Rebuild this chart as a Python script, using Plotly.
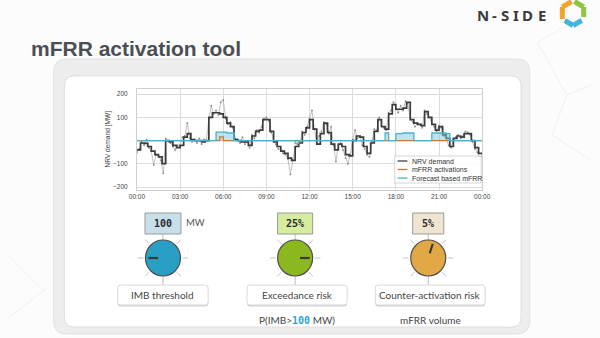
import plotly.graph_objects as go
import math

W, H = 600, 338

# ---------------- data ----------------
tick_hours = [0, 3, 6, 9, 12, 15, 18, 21, 24]
time_labels = ["00:00", "03:00", "06:00", "09:00", "12:00", "15:00", "18:00", "21:00", "00:00"]
y_ticks = [-200, -100, 0, 100, 200]
y_ticktext = ["\u2212200", "\u2212100", "", "100", "200"]

# 15-min NRV demand (MW)
nrv_demand = [
    -40, -10, -12, -25,   -45, -60, -70, -99,   0, -5, -20, -30,   -20, 15, 30, 5,
    0, 0, -5, 0,          100, 120, 120, 115,   100, 75, 60, 5,    0, -5, -5, -20,
    20, 40, 45, 90,       90, 40, -5, -25,      -45, -55, -75, -85, -25, -10, 35, 55,
    90, 50, -15, 30,      75, 35, -15, -40,     -15, -25, -60, -65, 0, 20, 15, -25,
    -55, -10, 40, 90,     60, 50, 115, 155,     135, 135, 140, 165, 90, 75, 70, 65,
    125, 100, 70, 45,     60, 25, 10, -25,      10, 20, 15, 30,    30, 0, -30, -55,
]
# 10-min raw NRV samples (MW)
nrv_raw = [
    -50, -35, -5, -20, 5, -30,      -45, -105, -60, -65, -85, -140,
    10, 0, -10, -25, -40, -20,      -25, 15, 20, 75, 10, -5,
    5, -10, 10, -15, 5, 0,          95, 150, 115, 130, 110, 165,
    175, 95, 70, 80, 55, 10,        5, -10, 15, -15, -5, -30,
    25, 10, 45, 35, 60, 95,         100, 85, 35, 0, -15, -35,
    -40, -55, -60, -80, -145, -85,  -30, -15, -5, 40, 25, 60,
    95, 130, 50, -10, 20, 40,       80, 70, 30, 60, -20, -90,
    -20, -10, -40, -75, -100, -60,  5, 45, 10, 20, -20, -35,
    -60, -70, -5, 50, 45, 100,      65, 55, 45, 120, 130, 165,
    140, 120, 150, 130, 170, 160,   95, 80, 60, 75, 70, 55,
    130, 115, 100, 75, 60, 40,      65, 55, 20, 15, -20, -30,
    5, 15, 25, 10, 20, 40,          35, 25, -5, -35, -50, -70,
    -65,
]
mfrr_activations = [
    0, 0, 0, 0,  0, 0, 0, 0,  0, 0, 0, 0,  0, 0, 0, 0,
    0, 0, 0, 0,  0, 0, 0, 16, 0, 0, 0, 0,  0, 0, 0, 0,
    0, 0, 0, 0,  0, 0, 0, 0,  0, 0, 0, 0,  0, 0, 0, 0,
    0, 0, 0, 0,  0, 0, 0, 0,  0, 0, 0, 0,  0, 0, 0, 0,
    0, 0, 0, 0,  0, 0, 0, 0,  0, 0, 0, 0,  0, 0, 0, 0,
    0, 0, 0, 0,  0, 0, 0, 0,  0, 0, 0, 0,  0, 0, 0, 0,
]
forecast_mfrr = [
    0, 0, 0, 0,  0, 0, 0, 0,  0, 0, 0, 0,  0, 0, 0, 0,
    0, 0, 0, 0,  0, 0, 37, 37, 37, 33, 33, 0, 0, 0, 0, 0,
    0, 0, 0, 0,  0, 0, 0, 0,  0, 0, 0, 0,  -13, 0, 0, 0,
    0, 0, 0, 0,  0, 0, 0, 0,  0, 0, 0, 0,  0, 0, 0, 0,
    0, 0, 0, 0,  0, 33, 0, 0, 30, 30, 33, 33, 33, 0, 0, 0,
    0, 0, 33, 33, 33, 33, 30, 0, 0, 0, 0, 0, 0, 0, 0, 0,
]

knob_names = ["IMB threshold", "Exceedance risk", "Counter-activation risk"]
knob_values = ["100", "25%", "5%"]
knob_units = ["MW", "", ""]
knob_subtitles = ["", "P(IMB&gt;<span style='color:#2aa6cf;font-family:DejaVu Sans Mono'><b>100</b></span> MW)",
                  "mFRR volume"]

# ---------------- style / geometry ----------------
knob_fill = ["#2a9fc6", "#8bb81f", "#e2a845"]
box_fill = ["#c6dfe8", "#d6ec9f", "#efe4d0"]
knob_cx = [159.5, 295.5, 432.5]
knob_cy = 258
knob_r = 18
box_w = [37, 36, 32]
label_box = [(113, 206), (246, 349), (378, 491)]
knob_angle = [180, 0, 72]

t15 = [i / 4 for i in range(len(nrv_demand) + 1)]
t10 = [i / 6 for i in range(len(nrv_raw))]


def px(x):
    return x / W


def py(y):
    return 1 - y / H


shapes = []
annotations = []


def rrect(x0, y0, x1, y1, r, fill, line="rgba(0,0,0,0)", lw=0, layer="below"):
    pts = [
        ("M", [(x0 + r, y0)]), ("L", [(x1 - r, y0)]), ("Q", [(x1, y0), (x1, y0 + r)]),
        ("L", [(x1, y1 - r)]), ("Q", [(x1, y1), (x1 - r, y1)]), ("L", [(x0 + r, y1)]),
        ("Q", [(x0, y1), (x0, y1 - r)]), ("L", [(x0, y0 + r)]), ("Q", [(x0, y0), (x0 + r, y0)]),
    ]
    path = ""
    for cmd, ps in pts:
        path += cmd + " ".join(f"{px(a):.5f},{py(b):.5f}" for a, b in ps) + " "
    path += "Z"
    shapes.append(dict(type="path", xref="paper", yref="paper", path=path, fillcolor=fill,
                       line=dict(color=line, width=lw), layer=layer))


def rect(x0, y0, x1, y1, fill, line="rgba(0,0,0,0)", lw=0, layer="below"):
    shapes.append(dict(type="rect", xref="paper", yref="paper", x0=px(x0), x1=px(x1), y0=py(y1), y1=py(y0),
                       fillcolor=fill, line=dict(color=line, width=lw), layer=layer))


def seg(x0, y0, x1, y1, color, lw, layer="below"):
    shapes.append(dict(type="line", xref="paper", yref="paper", x0=px(x0), x1=px(x1), y0=py(y0), y1=py(y1),
                       line=dict(color=color, width=lw), layer=layer))


def circ(cx, cy, r, fill, line, lw):
    shapes.append(dict(type="circle", xref="paper", yref="paper", x0=px(cx - r), x1=px(cx + r),
                       y0=py(cy + r), y1=py(cy - r), fillcolor=fill, line=dict(color=line, width=lw),
                       layer="below"))


def text(x, y, s, size, color, family="Lato", xanchor="center", angle=0):
    annotations.append(dict(x=px(x), y=py(y), xref="paper", yref="paper", text=s, showarrow=False,
                            xanchor=xanchor, yanchor="middle", textangle=angle,
                            font=dict(size=size, color=color, family=family)))


# faint background network lines
for a, b, c, d in [(545, 42, 600, 12), (545, 42, 575, 95), (575, 95, 600, 85), (560, 135, 600, 160),
                   (0, 255, 38, 292), (0, 318, 40, 288), (575, 95, 560, 135)]:
    seg(a, b, c, d, "#f1f1f1", 1)

# cards
rrect(47, 59, 537, 334, 13, "#ededed", "#e2e2e2", 1)
rrect(58, 76, 528, 327, 10, "#ffffff", "#dedede", 1)

# knobs
for i in range(3):
    cx = knob_cx[i]
    seg(cx, 234, cx, knob_cy - knob_r, "#bdbdbd", 1)
    seg(cx, knob_cy + knob_r, cx, 285, "#bdbdbd", 1)
    for ang in [0, 45, 135, 180, 225, 315]:
        a = math.radians(ang)
        seg(cx + 20 * math.cos(a), knob_cy - 20 * math.sin(a), cx + 26 * math.cos(a), knob_cy - 26 * math.sin(a),
            "#c4c4c4", 1)
    circ(cx, knob_cy, knob_r, knob_fill[i], "#4f4f4f", 1.2)
    a = math.radians(knob_angle[i])
    seg(cx + 5 * math.cos(a), knob_cy - 5 * math.sin(a), cx + 15 * math.cos(a), knob_cy - 15 * math.sin(a),
        "#3a3a3a", 2.2)
    rect(cx - box_w[i] / 2, 213, cx + box_w[i] / 2, 234, box_fill[i], "#9a9a9a", 1)
    text(cx, 223.5, "<b>" + knob_values[i] + "</b>", 10, "#2b2b2b", "DejaVu Sans Mono")
    if knob_units[i]:
        text(cx + box_w[i] / 2 + 15, 222, knob_units[i], 9.5, "#555555")
    x0, x1 = label_box[i]
    rrect(x0, 286, x1, 306.5, 3, "#d2d2d2")
    rrect(x0, 285, x1, 305, 3, "#ffffff", "#dadada", 1)
    text((x0 + x1) / 2, 295, knob_names[i], 10, "#454545")
    if knob_subtitles[i]:
        text((x0 + x1) / 2, 320, knob_subtitles[i], 10, "#454545")

# title and logo
text(22, 48, "<b>mFRR activation tool</b>", 21, "#4a4f55", "Liberation Sans", xanchor="left")
for ch, xx in zip(["N", "-", "S", "I", "D", "E"], [489, 500.5, 511.5, 523, 534.5, 550]):
    text(xx, 14.5, "<b>" + ch + "</b>", 15, "#3b3b3b", "Noto Sans")
hw = 5
seg(570.5, 19, 570.5, 7, "#f3a42b", hw, "above")
seg(570.5, 7, 580, 1.5, "#f3a42b", hw, "above")
seg(583, 1.5, 592.5, 7, "#8dc63f", hw, "above")
seg(592.5, 7, 592.5, 17, "#8dc63f", hw, "above")
seg(573, 20.5, 581.5, 25.5, "#41b6d9", hw, "above")
seg(581.5, 25.5, 590.5, 20.5, "#41b6d9", hw, "above")

# y title
text(102.5, 139, "NRV demand [MW]", 6.6, "#444444", "Liberation Sans", angle=-90)

# legend (drawn above traces)
rect(398, 156, 487, 183, "rgba(255,255,255,0.88)", "#cccccc", 0.8, "above")
leg = [("NRV demand", "#404040"), ("mFRR activations", "#c47a30"), ("Forecast based mFRR", "#4db3c6")]
for k, (lab, col) in enumerate(leg):
    yy = 161 + k * 8.5
    seg(401, yy, 411, yy, col, 1.3, "above")
    text(414, yy, lab, 7, "#333333", "Liberation Sans", xanchor="left")

# ---------------- traces ----------------
fig = go.Figure()
fig.add_trace(go.Scatter(x=t10, y=nrv_raw, mode="lines+markers", line=dict(color="#a8a8a8", width=0.7),
                         marker=dict(size=1.8, color="#8c8c8c"), showlegend=False, hoverinfo="skip"))
fig.add_trace(go.Scatter(x=t15, y=nrv_demand + [nrv_demand[-1]], mode="lines", line_shape="hv",
                         line=dict(color="#3c3c3c", width=1.7), name="NRV demand", showlegend=False))
fig.add_trace(go.Scatter(x=t15, y=forecast_mfrr + [forecast_mfrr[-1]], mode="lines", line_shape="hv",
                         fill="tozeroy", fillcolor="rgba(120,200,225,0.5)",
                         line=dict(color="rgba(0,0,0,0)", width=0), showlegend=False, hoverinfo="skip"))
fig.add_trace(go.Scatter(x=t15, y=mfrr_activations + [mfrr_activations[-1]], mode="lines", line_shape="hv",
                         line=dict(color="#c47a30", width=1.3), name="mFRR activations", showlegend=False))
fig.add_trace(go.Scatter(x=t15, y=forecast_mfrr + [forecast_mfrr[-1]], mode="lines", line_shape="hv",
                         line=dict(color="#4db3c6", width=1.3), name="Forecast based mFRR", showlegend=False))

fig.update_layout(
    width=W, height=H, margin=dict(l=0, r=0, t=0, b=0),
    paper_bgcolor="#fcfcfc", plot_bgcolor="rgba(0,0,0,0)",
    shapes=shapes, annotations=annotations, showlegend=False,
    xaxis=dict(domain=[132.7 / W, 488 / W], range=[0, 24], tickvals=tick_hours, ticktext=time_labels,
               showgrid=True, gridcolor="#dcdcdc", gridwidth=1, zeroline=False, showline=True, mirror=True,
               linecolor="#cfcfcf", linewidth=1, ticks="",
               tickfont=dict(size=6.5, color="#444444", family="Liberation Sans")),
    yaxis=dict(domain=[1 - 190 / H, 1 - 89 / H], range=[-212, 222], tickvals=y_ticks, ticktext=y_ticktext,
               showgrid=True, gridcolor="#dcdcdc", gridwidth=1, zeroline=False, showline=True, mirror=True,
               linecolor="#cfcfcf", linewidth=1, ticks="", ticklabelstandoff=7,
               tickfont=dict(size=6.5, color="#444444", family="Liberation Sans")),
)

fig.write_html("out.html")
